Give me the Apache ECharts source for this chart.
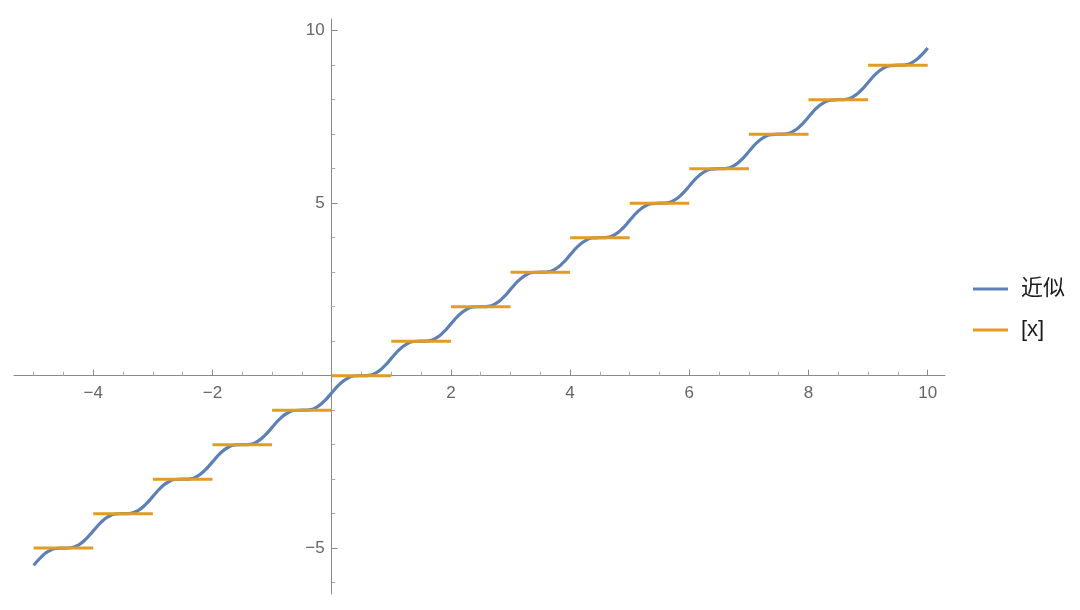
<!DOCTYPE html>
<html>
<head>
<meta charset="utf-8">
<script src="https://cdn.jsdelivr.net/npm/echarts@6/dist/echarts.min.js"></script>
<style>
  html, body { margin: 0; padding: 0; background: #fff; }
  #main { width: 1080px; height: 610px; }
</style>
</head>
<body>
<div id="main"></div>
<script>
  // 近似曲线 (smooth approximation), sampled every 1/8
  var approxX = [
    -5, -4.875, -4.75, -4.625, -4.5, -4.375, -4.25, -4.125,
    -4, -3.875, -3.75, -3.625, -3.5, -3.375, -3.25, -3.125,
    -3, -2.875, -2.75, -2.625, -2.5, -2.375, -2.25, -2.125,
    -2, -1.875, -1.75, -1.625, -1.5, -1.375, -1.25, -1.125,
    -1, -0.875, -0.75, -0.625, -0.5, -0.375, -0.25, -0.125,
    0, 0.125, 0.25, 0.375, 0.5, 0.625, 0.75, 0.875,
    1, 1.125, 1.25, 1.375, 1.5, 1.625, 1.75, 1.875,
    2, 2.125, 2.25, 2.375, 2.5, 2.625, 2.75, 2.875,
    3, 3.125, 3.25, 3.375, 3.5, 3.625, 3.75, 3.875,
    4, 4.125, 4.25, 4.375, 4.5, 4.625, 4.75, 4.875,
    5, 5.125, 5.25, 5.375, 5.5, 5.625, 5.75, 5.875,
    6, 6.125, 6.25, 6.375, 6.5, 6.625, 6.75, 6.875,
    7, 7.125, 7.25, 7.375, 7.5, 7.625, 7.75, 7.875,
    8, 8.125, 8.25, 8.375, 8.5, 8.625, 8.75, 8.875,
    9, 9.125, 9.25, 9.375, 9.5, 9.625, 9.75, 9.875,
    10
  ];
  var approxY = [
    -5.5, -5.26, -5.09, -5.01, -5, -4.99, -4.91, -4.74,
    -4.5, -4.26, -4.09, -4.01, -4, -3.99, -3.91, -3.74,
    -3.5, -3.26, -3.09, -3.01, -3, -2.99, -2.91, -2.74,
    -2.5, -2.26, -2.09, -2.01, -2, -1.99, -1.91, -1.74,
    -1.5, -1.26, -1.09, -1.01, -1, -0.99, -0.91, -0.74,
    -0.5, -0.26, -0.09, -0.01, 0, 0.01, 0.09, 0.26,
    0.5, 0.74, 0.91, 0.99, 1, 1.01, 1.09, 1.26,
    1.5, 1.74, 1.91, 1.99, 2, 2.01, 2.09, 2.26,
    2.5, 2.74, 2.91, 2.99, 3, 3.01, 3.09, 3.26,
    3.5, 3.74, 3.91, 3.99, 4, 4.01, 4.09, 4.26,
    4.5, 4.74, 4.91, 4.99, 5, 5.01, 5.09, 5.26,
    5.5, 5.74, 5.91, 5.99, 6, 6.01, 6.09, 6.26,
    6.5, 6.74, 6.91, 6.99, 7, 7.01, 7.09, 7.26,
    7.5, 7.74, 7.91, 7.99, 8, 8.01, 8.09, 8.26,
    8.5, 8.74, 8.91, 8.99, 9, 9.01, 9.09, 9.26,
    9.5
  ];

  // [x] floor segments: from floorStart to floorEnd at height floorLevel
  var floorStart = [-5, -4, -3, -2, -1, 0, 1, 2, 3, 4, 5, 6, 7, 8, 9];
  var floorEnd   = [-4, -3, -2, -1, 0, 1, 2, 3, 4, 5, 6, 7, 8, 9, 10];
  var floorLevel = [-5, -4, -3, -2, -1, 0, 1, 2, 3, 4, 5, 6, 7, 8, 9];

  // ticks
  var xMajorTicks = [-4, -2, 2, 4, 6, 8, 10];
  var xMinorTicks = [-5, -4.5, -3.5, -3, -2.5, -1.5, -1, -0.5, 0.5, 1, 1.5, 2.5, 3, 3.5,
                     4.5, 5, 5.5, 6.5, 7, 7.5, 8.5, 9, 9.5];
  var yMajorTicks = [-5, 5, 10];
  var yMinorTicks = [-6, -4, -3, -2, -1, 1, 2, 3, 4, 6, 7, 8, 9];

  var blue = '#5e81b5';
  var orange = '#e19c24';
  var axisColor = '#8a8a8a';
  var minorColor = '#aaaaaa';
  var labelColor = '#666666';

  var approxData = approxX.map(function (x, i) { return [x, approxY[i]]; });
  var floorData = [];
  floorStart.forEach(function (x0, i) {
    floorData.push([x0, floorLevel[i]]);
    floorData.push([floorEnd[i], floorLevel[i]]);
    floorData.push([floorEnd[i], '-']);
  });

  function minusFmt(v) {
    return v < 0 ? '\u2212' + Math.abs(v) : String(v);
  }

  var xMin = -5.33, xMax = 10.29;
  var yMin = -6.33, yMax = 10.34;
  var gridLeft = 14, gridTop = 19, gridW = 931, gridH = 575;
  // move the axes to cross at the origin
  var xAxisOffset = -(gridH - gridH * yMax / (yMax - yMin));
  var yAxisOffset = -(gridW * -xMin / (xMax - xMin));

  var fontFam = 'Liberation Sans, Arial, sans-serif';

  var myChart = echarts.init(document.getElementById('main'));
  myChart.setOption({
    animation: false,
    backgroundColor: '#ffffff',
    grid: {
      left: gridLeft,
      top: gridTop,
      width: gridW,
      height: gridH,
      outerBoundsMode: 'none'
    },
    legend: {
      orient: 'vertical',
      left: 968,
      top: 273,
      icon: 'rect',
      itemWidth: 35,
      itemHeight: 3,
      itemGap: 19,
      data: ['近似', '[x]'],
      textStyle: {
        fontSize: 22,
        color: '#1a1a1a',
        fontFamily: 'Liberation Sans, Noto Sans CJK SC, sans-serif',
        padding: [0, 0, 0, 8]
      }
    },
    xAxis: [{
      type: 'value',
      min: xMin,
      max: xMax,
      position: 'bottom',
      offset: xAxisOffset,
      axisLine: { onZero: false, lineStyle: { color: axisColor, width: 1 } },
      axisTick: { show: true, inside: true, length: 6, customValues: xMajorTicks, lineStyle: { color: axisColor } },
      axisLabel: {
        customValues: xMajorTicks,
        formatter: minusFmt,
        margin: 9,
        fontSize: 17,
        color: labelColor,
        fontFamily: fontFam
      },
      splitLine: { show: false }
    }, {
      type: 'value',
      min: xMin,
      max: xMax,
      position: 'bottom',
      offset: xAxisOffset,
      axisLine: { show: false, onZero: false },
      axisTick: { show: true, inside: true, length: 4, customValues: xMinorTicks, lineStyle: { color: minorColor } },
      axisLabel: { show: false },
      splitLine: { show: false }
    }],
    yAxis: [{
      type: 'value',
      min: yMin,
      max: yMax,
      position: 'left',
      offset: yAxisOffset,
      axisLine: { show: true, onZero: false, lineStyle: { color: axisColor, width: 1 } },
      axisTick: { show: true, inside: true, length: 6, customValues: yMajorTicks, lineStyle: { color: axisColor } },
      axisLabel: {
        customValues: yMajorTicks,
        formatter: minusFmt,
        margin: 7,
        fontSize: 17,
        color: labelColor,
        fontFamily: fontFam
      },
      splitLine: { show: false }
    }, {
      type: 'value',
      min: yMin,
      max: yMax,
      position: 'left',
      offset: yAxisOffset,
      axisLine: { show: false, onZero: false },
      axisTick: { show: true, inside: true, length: 3.5, customValues: yMinorTicks, lineStyle: { color: minorColor } },
      axisLabel: { show: false },
      splitLine: { show: false }
    }],
    series: [{
      name: '近似',
      type: 'line',
      xAxisIndex: 0,
      yAxisIndex: 0,
      data: approxData,
      smooth: 0.5,
      symbol: 'none',
      lineStyle: { color: blue, width: 3.2 },
      itemStyle: { color: blue }
    }, {
      name: '[x]',
      type: 'line',
      xAxisIndex: 0,
      yAxisIndex: 0,
      data: floorData,
      connectNulls: false,
      symbol: 'none',
      lineStyle: { color: orange, width: 3 },
      itemStyle: { color: orange }
    }]
  });
  window.addEventListener('resize', function () {
    myChart.resize();
  });
</script>
</body>
</html>
